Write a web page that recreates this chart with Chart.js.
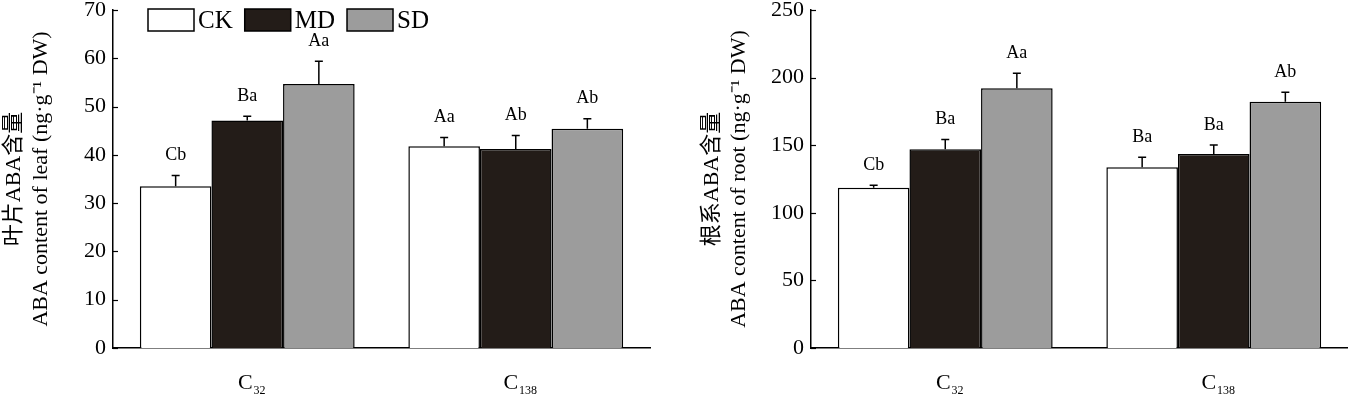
<!DOCTYPE html>
<html>
<head>
<meta charset="utf-8">
<script src="https://cdn.jsdelivr.net/npm/chart.js@4.4.1/dist/chart.umd.min.js"></script>
<style>
body { margin: 0; background: #fff; }
#wrap { position: relative; width: 1348px; height: 395px; }
.box { position: absolute; top: 0; width: 674px; height: 395px; }
</style>
</head>
<body>
<div id="wrap">
  <div class="box" style="left:0"><canvas id="leaf" width="674" height="395"></canvas></div>
  <div class="box" style="left:674px"><canvas id="root" width="674" height="395"></canvas></div>
</div>
<script>
// categories and series
var categories = ["C32", "C138"];
var seriesNames = ["CK", "MD", "SD"];
var seriesColors = ["#ffffff", "#231c18", "#9c9c9c"];

// leaf ABA (ng/g DW)
var leafCK = [33.5, 41.8];
var leafMD = [47.1, 41.2];
var leafSD = [54.7, 45.4];
var leafCKErr = [2.2, 1.8];
var leafMDErr = [0.9, 2.8];
var leafSDErr = [4.7, 2.1];
var leafCKSig = ["Cb", "Aa"];
var leafMDSig = ["Ba", "Ab"];
var leafSDSig = ["Aa", "Ab"];

// root ABA (ng/g DW)
var rootCK = [118.5, 133.6];
var rootMD = [147.0, 143.5];
var rootSD = [192.1, 182.2];
var rootCKErr = [1.8, 7.4];
var rootMDErr = [7.3, 6.6];
var rootSDErr = [11.1, 6.9];
var rootCKSig = ["Cb", "Ba"];
var rootMDSig = ["Ba", "Ba"];
var rootSDSig = ["Aa", "Ab"];

var serif = "'Liberation Serif', 'Times New Roman', 'Noto Sans CJK SC', serif";

// error bars + significance letters
var errorBars = {
  id: "errorBars",
  afterDatasetsDraw: function(chart) {
    var ctx = chart.ctx;
    var y = chart.scales.y;
    ctx.save();
    ctx.strokeStyle = "#000";
    ctx.lineWidth = 1.5;
    ctx.fillStyle = "#000";
    ctx.font = "18px " + serif;
    ctx.textAlign = "center";
    ctx.textBaseline = "middle";
    chart.data.datasets.forEach(function(ds, i) {
      var meta = chart.getDatasetMeta(i);
      meta.data.forEach(function(bar, j) {
        var top = y.getPixelForValue(ds.data[j] + ds.errors[j]);
        ctx.beginPath();
        ctx.moveTo(bar.x, bar.y);
        ctx.lineTo(bar.x, top);
        ctx.moveTo(bar.x - 4, top);
        ctx.lineTo(bar.x + 4, top);
        ctx.stroke();
        ctx.fillText(ds.letters[j], bar.x, top - 20);
      });
    });
    ctx.restore();
  }
};

// short ticks pointing into the plot
var insideTicks = {
  id: "insideTicks",
  afterDraw: function(chart) {
    var ctx = chart.ctx;
    var y = chart.scales.y;
    var left = chart.chartArea.left;
    ctx.save();
    ctx.strokeStyle = "#000";
    ctx.lineWidth = 1.2;
    y.ticks.forEach(function(t) {
      var py = Math.round(y.getPixelForValue(t.value)) + 0.5;
      ctx.beginPath();
      ctx.moveTo(left, py);
      ctx.lineTo(left + 5, py);
      ctx.stroke();
    });
    ctx.restore();
  }
};

// category labels with subscript digits
var subLabels = {
  id: "subLabels",
  afterDraw: function(chart) {
    var ctx = chart.ctx;
    var x = chart.scales.x;
    ctx.save();
    ctx.fillStyle = "#000";
    ctx.textBaseline = "alphabetic";
    ctx.textAlign = "left";
    chart.data.labels.forEach(function(lab, i) {
      var main = lab.charAt(0), sub = lab.slice(1);
      ctx.font = "22px " + serif;
      var w1 = ctx.measureText(main).width;
      ctx.font = "12px " + serif;
      var w2 = ctx.measureText(sub).width;
      var cx = x.getPixelForValue(i);
      var sx = cx - (w1 + w2) / 2 + 4;
      ctx.font = "22px " + serif;
      ctx.fillText(main, sx, 389);
      ctx.font = "12px " + serif;
      ctx.fillText(sub, sx + w1 + 1, 394);
    });
    ctx.restore();
  }
};

// legend drawn inside the plot area
var innerLegend = {
  id: "innerLegend",
  afterDraw: function(chart) {
    var ctx = chart.ctx;
    var x = chart.chartArea.left + 35;
    var top = 9;
    ctx.save();
    ctx.font = "25px " + serif;
    ctx.textBaseline = "middle";
    ctx.textAlign = "left";
    chart.data.datasets.forEach(function(ds) {
      ctx.fillStyle = ds.backgroundColor;
      ctx.fillRect(x, top, 46, 22);
      ctx.strokeStyle = "#000";
      ctx.lineWidth = 1.5;
      ctx.strokeRect(x, top, 46, 22);
      ctx.fillStyle = "#000";
      ctx.fillText(ds.label, x + 50, top + 12);
      x += 50 + ctx.measureText(ds.label).width + 12;
    });
    ctx.restore();
  }
};

function makeChart(id, vals, errs, sigs, max, step, titleLines, yWidth, titlePad, padRight, extra) {
  var datasets = seriesNames.map(function(name, k) {
    return {
      label: name,
      data: vals[k],
      errors: errs[k],
      letters: sigs[k],
      backgroundColor: seriesColors[k],
      borderColor: "#000",
      borderWidth: 1.5,
      categoryPercentage: 0.8,
      barPercentage: 1.0
    };
  });
  return new Chart(document.getElementById(id), {
    type: "bar",
    data: { labels: categories, datasets: datasets },
    options: {
      responsive: false,
      animation: false,
      devicePixelRatio: 1,
      layout: { padding: { top: 10, right: padRight, left: 0, bottom: 0 } },
      plugins: { legend: { display: false }, tooltip: { enabled: false } },
      scales: {
        x: {
          grid: { display: false },
          border: { display: true, color: "#000", width: 1.5 },
          ticks: { display: false },
          afterFit: function(s) { s.height = 47; s.paddingLeft = 0; s.paddingRight = 0; }
        },
        y: {
          min: 0,
          max: max,
          grid: { display: false, drawTicks: false },
          border: { display: true, color: "#000", width: 1.5 },
          ticks: { stepSize: step, color: "#000", padding: 7, font: { family: serif, size: 22 } },
          title: {
            display: true,
            text: titleLines,
            color: "#000",
            font: { family: serif, size: 22, lineHeight: 1.25 },
            padding: { top: titlePad, bottom: 0 }
          },
          afterFit: function(s) { s.width = yWidth; s.paddingTop = 0; s.paddingBottom = 0; }
        }
      }
    },
    plugins: [errorBars, insideTicks, subLabels].concat(extra)
  });
}

makeChart("leaf",
  [leafCK, leafMD, leafSD],
  [leafCKErr, leafMDErr, leafSDErr],
  [leafCKSig, leafMDSig, leafSDSig],
  70, 10,
  ["叶片ABA含量", "ABA content of leaf (ng·g⁻¹ DW)"],
  113, 0, 24, [innerLegend]);

makeChart("root",
  [rootCK, rootMD, rootSD],
  [rootCKErr, rootMDErr, rootSDErr],
  [rootCKSig, rootMDSig, rootSDSig],
  250, 50,
  ["根系ABA含量", "ABA content of root (ng·g⁻¹ DW)"],
  137, 24, 0, []);
</script>
</body>
</html>
